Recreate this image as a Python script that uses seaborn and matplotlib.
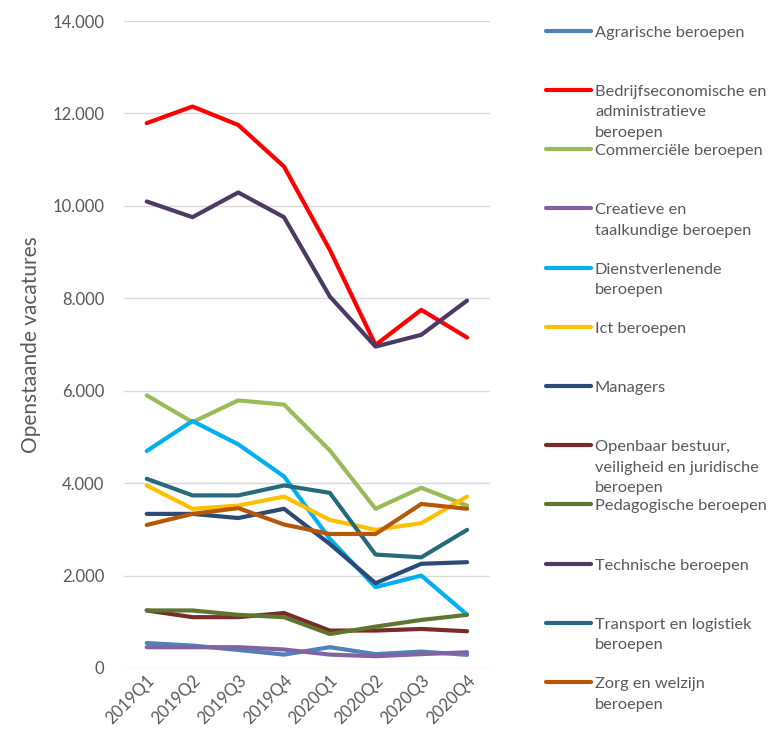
import numpy as np
import pandas as pd
import matplotlib
matplotlib.use("Agg")
import matplotlib.pyplot as plt
from matplotlib.lines import Line2D
from matplotlib.ticker import FuncFormatter
import seaborn as sns

kwartalen = ["2019Q1", "2019Q2", "2019Q3", "2019Q4", "2020Q1", "2020Q2", "2020Q3", "2020Q4"]

agrarisch = [540, 485, 390, 290, 450, 300, 355, 285]
bedrijfseconomisch = [11790, 12150, 11750, 10850, 9050, 6990, 7750, 7150]
commercieel = [5900, 5320, 5790, 5700, 4710, 3445, 3900, 3515]
creatief = [450, 450, 450, 400, 290, 255, 300, 340]
dienstverlenend = [4695, 5345, 4840, 4145, 2795, 1750, 2000, 1155]
ict = [3950, 3445, 3515, 3710, 3205, 2990, 3135, 3710]
managers = [3335, 3335, 3245, 3445, 2685, 1835, 2255, 2290]
openbaar_bestuur = [1245, 1100, 1100, 1190, 810, 810, 845, 795]
pedagogisch = [1245, 1245, 1150, 1100, 735, 895, 1040, 1150]
technisch = [10095, 9755, 10290, 9755, 8040, 6955, 7210, 7950]
transport = [4095, 3735, 3735, 3950, 3790, 2455, 2395, 2990]
zorg = [3095, 3335, 3460, 3105, 2900, 2900, 3550, 3445]

beroepen = [
    "Agrarische beroepen",
    "Bedrijfseconomische en\nadministratieve\nberoepen",
    "Commerciële beroepen",
    "Creatieve en\ntaalkundige beroepen",
    "Dienstverlenende\nberoepen",
    "Ict beroepen",
    "Managers",
    "Openbaar bestuur,\nveiligheid en juridische\nberoepen",
    "Pedagogische beroepen",
    "Technische beroepen",
    "Transport en logistiek\nberoepen",
    "Zorg en welzijn\nberoepen",
]
reeksen = [agrarisch, bedrijfseconomisch, commercieel, creatief, dienstverlenend, ict,
           managers, openbaar_bestuur, pedagogisch, technisch, transport, zorg]
kleuren = ["#4F81BD", "#FF0000", "#9BBB59", "#8064A2", "#00B0F0", "#FFC000",
           "#2A4A78", "#772C2A", "#5F7530", "#4B3A63", "#276A7C", "#B65708"]

rows = []
for naam, waarden in zip(beroepen, reeksen):
    for k, v in zip(kwartalen, waarden):
        rows.append({"kwartaal": k, "vacatures": v, "beroep": naam})
df = pd.DataFrame(rows)

sns.set_theme(style="white")
plt.rcParams["font.family"] = ["Lato", "DejaVu Sans"]
tekst_kleur = "#595959"

fig = plt.figure(figsize=(7.74, 7.40), dpi=100)
ax = fig.add_axes([0.160, 0.0973, 0.473, 0.8743])

sns.lineplot(data=df, x="kwartaal", y="vacatures", hue="beroep", hue_order=beroepen,
             palette=dict(zip(beroepen, kleuren)), sort=False, legend=False,
             linewidth=3.0, ax=ax)
for ln in ax.lines:
    ln.set_solid_capstyle("round")
    ln.set_solid_joinstyle("round")

ax.set_xlim(-0.5, len(kwartalen) - 0.5)
ax.set_ylim(0, 14000)
ax.set_yticks(np.arange(0, 14001, 2000))
ax.yaxis.set_major_formatter(FuncFormatter(lambda v, p: f"{v:,.0f}".replace(",", ".")))
ax.grid(axis="y", color="#D9D9D9", linewidth=1.0)
ax.grid(axis="x", visible=False)
ax.set_axisbelow(True)
for s in ax.spines.values():
    s.set_visible(False)
ax.tick_params(axis="both", length=0, labelsize=12, labelcolor=tekst_kleur)
ax.tick_params(axis="y", pad=14)
ax.tick_params(axis="x", pad=3)
for lab in ax.get_xticklabels():
    lab.set_rotation(45)
    lab.set_ha("right")
    lab.set_rotation_mode("anchor")
ax.set_xlabel("")
ax.set_ylabel("Openstaande vacatures", fontsize=15, color=tekst_kleur, labelpad=8)

# legenda rechts, vaste stap per item
W, H = 774, 740
y0, stap = 30.7, 59.2
for i, (naam, kleur) in enumerate(zip(beroepen, kleuren)):
    yp = y0 + i * stap
    fig.add_artist(Line2D([546 / W, 591 / W], [1 - yp / H, 1 - yp / H],
                          transform=fig.transFigure, color=kleur, linewidth=3.0,
                          solid_capstyle="round"))
    fig.text(595 / W, 1 - (yp - 5) / H, naam, va="top", ha="left", fontsize=11.8,
             color=tekst_kleur, linespacing=1.6)

fig.savefig("out.png", dpi=100)
